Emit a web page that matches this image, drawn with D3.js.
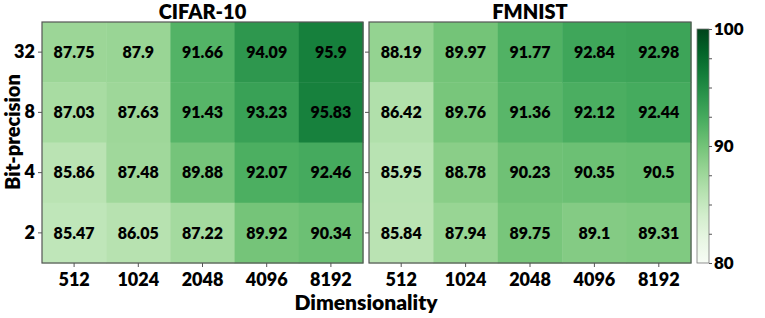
<!DOCTYPE html>
<html>
<head>
<meta charset="utf-8">
<script src="https://cdn.jsdelivr.net/npm/d3@7"></script>
<style>
  body { margin: 0; background: #fff; }
  text { font-family: Lato, "Open Sans", sans-serif; font-weight: 800; fill: #000; }
</style>
</head>
<body>
<div id="chart"></div>
<script>
// data
const dims = ["512", "1024", "2048", "4096", "8192"];
const bits = ["32", "8", "4", "2"];
const cifar = [
  [87.75, 87.9, 91.66, 94.09, 95.9],
  [87.03, 87.63, 91.43, 93.23, 95.83],
  [85.86, 87.48, 89.88, 92.07, 92.46],
  [85.47, 86.05, 87.22, 89.92, 90.34]
];
const fmnist = [
  [88.19, 89.97, 91.77, 92.84, 92.98],
  [86.42, 89.76, 91.36, 92.12, 92.44],
  [85.95, 88.78, 90.23, 90.35, 90.5],
  [85.84, 87.94, 89.75, 89.1, 89.31]
];
const panels = [
  { title: "CIFAR-10", values: cifar, x0: 42, x1: 363 },
  { title: "FMNIST", values: fmnist, x0: 369, x1: 691 }
];
const colorDomain = [80, 100];
const colorTicks = [80, 82.5, 85, 87.5, 90, 92.5, 95, 97.5, 100];

const width = 765, height = 318;
const plotTop = 22, plotBottom = 263;

const svg = d3.select("#chart").append("svg")
  .attr("width", width)
  .attr("height", height);

const color = d3.scaleSequential(d3.interpolateGreens).domain(colorDomain);

const y = d3.scaleBand().domain(bits).range([plotTop, plotBottom]);

panels.forEach((p, pi) => {
  const x = d3.scaleBand().domain(dims).range([p.x0, p.x1]);
  const g = svg.append("g");

  const cells = [];
  p.values.forEach((row, ri) => row.forEach((v, ci) => cells.push({ b: bits[ri], d: dims[ci], v: v })));

  g.selectAll("rect.cell")
    .data(cells)
    .enter()
    .append("rect")
    .attr("class", "cell")
    .attr("x", d => x(d.d))
    .attr("y", d => y(d.b))
    .attr("width", x.bandwidth() + 0.5)
    .attr("height", y.bandwidth() + 0.5)
    .attr("fill", d => color(d.v));

  g.selectAll("text.val")
    .data(cells)
    .enter()
    .append("text")
    .attr("class", "val")
    .attr("x", d => x(d.d) + x.bandwidth() / 2)
    .attr("y", d => y(d.b) + y.bandwidth() / 2)
    .attr("dy", "0.36em")
    .attr("text-anchor", "middle")
    .attr("font-size", "16px")
    .text(d => d.v);

  g.append("rect")
    .attr("x", p.x0)
    .attr("y", plotTop)
    .attr("width", p.x1 - p.x0)
    .attr("height", plotBottom - plotTop)
    .attr("fill", "none")
    .attr("stroke", "#555")
    .attr("stroke-width", 1.2);

  // x axis
  const xa = svg.append("g")
    .attr("transform", `translate(0,${plotBottom})`)
    .call(d3.axisBottom(x).tickSize(4).tickPadding(6));
  xa.select(".domain").remove();
  xa.selectAll("line").attr("stroke", "#555");
  xa.selectAll("text").attr("font-size", "18px").attr("font-family", "Lato, sans-serif");

  // y axis
  const ya = svg.append("g")
    .attr("transform", `translate(${p.x0},0)`)
    .call(d3.axisLeft(y).tickSize(4).tickPadding(3));
  ya.select(".domain").remove();
  ya.selectAll("line").attr("stroke", "#555");
  ya.selectAll("text").attr("font-size", "18px").attr("font-family", "Lato, sans-serif");
  if (pi > 0) ya.selectAll("text").remove();

  svg.append("text")
    .attr("x", (p.x0 + p.x1) / 2)
    .attr("y", 19)
    .attr("text-anchor", "middle")
    .attr("font-size", "20px")
    .text(p.title);
});

// axis titles
svg.append("text")
  .attr("x", 366)
  .attr("y", 310)
  .attr("text-anchor", "middle")
  .attr("font-size", "21px")
  .text("Dimensionality");

svg.append("text")
  .attr("transform", "translate(20,132) rotate(-90)")
  .attr("text-anchor", "middle")
  .attr("font-size", "20px")
  .text("Bit-precision");

// colorbar
const cbX = 697, cbW = 12, cbTop = 29, cbBottom = 263;
const cs = d3.scaleLinear().domain(colorDomain).range([cbBottom, cbTop]);
const defs = svg.append("defs");
const grad = defs.append("linearGradient")
  .attr("id", "cbgrad")
  .attr("x1", 0).attr("y1", 1).attr("x2", 0).attr("y2", 0);
d3.range(0, 1.0001, 0.1).forEach(t => {
  grad.append("stop")
    .attr("offset", t)
    .attr("stop-color", color(colorDomain[0] + t * (colorDomain[1] - colorDomain[0])));
});
svg.append("rect")
  .attr("x", cbX)
  .attr("y", cbTop)
  .attr("width", cbW)
  .attr("height", cbBottom - cbTop)
  .attr("fill", "url(#cbgrad)")
  .attr("stroke", "#777")
  .attr("stroke-width", 0.8);

const ca = svg.append("g")
  .attr("transform", `translate(${cbX + cbW},0)`)
  .call(d3.axisRight(cs).tickValues(colorTicks).tickSize(3).tickPadding(2)
    .tickFormat(d => (d % 10 === 0 ? d : "")));
ca.select(".domain").remove();
ca.selectAll("line").attr("stroke", "#555");
ca.selectAll("text").attr("font-size", "17px").attr("font-family", "Lato, sans-serif");
</script>
</body>
</html>
